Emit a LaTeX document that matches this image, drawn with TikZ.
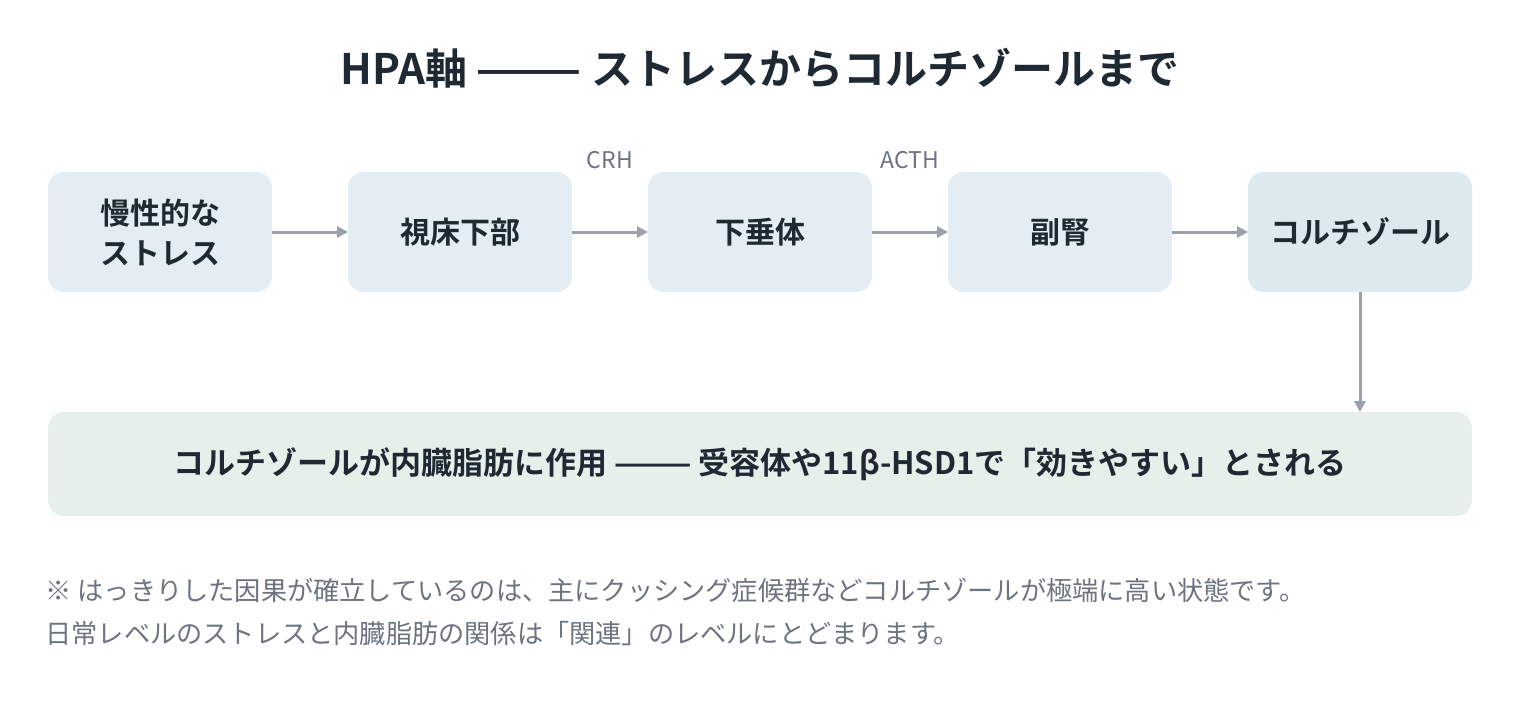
\documentclass[tikz,border=0pt]{standalone}
\usepackage{fontspec}
\setmainfont{Noto Sans CJK JP}[BoldFont={* Bold}]
\usetikzlibrary{positioning,arrows.meta}
\definecolor{boxblue}{HTML}{E4EDF3}
\definecolor{boxend}{HTML}{DCEAF0}
\definecolor{boxgreen}{HTML}{E6EFE9}
\definecolor{arrowgray}{HTML}{9AA1AA}
\definecolor{labelgray}{HTML}{6B7480}
\definecolor{textdark}{HTML}{1F2933}
\tikzset{
  stage/.style={fill=boxblue, rounded corners=16pt, minimum width=224pt, minimum height=120pt,
    outer sep=0pt, align=center, font=\fontsize{30}{40}\selectfont\bfseries, text=textdark},
  flow/.style={-{Triangle[length=11pt,width=11pt]}, line width=3pt, draw=arrowgray},
  hormone/.style={font=\fontsize{23}{26}\selectfont, text=labelgray},
  note/.style={font=\fontsize{26.2}{30}\selectfont, text=labelgray, anchor=west}
}
\begin{document}
\begin{tikzpicture}[x=1pt,y=-1pt]
    \useasboundingbox (0,0) rectangle (1520,704);
    \node[font=\fontsize{42}{50}\selectfont\bfseries, text=textdark] (title) at (760,68) {HPA軸 ——— ストレスからコルチゾールまで};

    \node[stage] (stress) at (160,232) {慢性的な\\ストレス};
    \node[stage, right=76pt of stress] (hypo) {視床下部};
    \node[stage, right=76pt of hypo] (pit) {下垂体};
    \node[stage, right=76pt of pit] (adrenal) {副腎};
    \node[stage, right=76pt of adrenal, fill=boxend] (cort) {コルチゾール};

    \node[hormone] (crh) at (610,160) {CRH};
    \node[hormone] (acth) at (910,160) {ACTH};

    \draw[flow] (stress) -- (hypo);
    \draw[flow] (hypo) -- (pit);
    \draw[flow] (pit) -- (adrenal);
    \draw[flow] (adrenal) -- (cort);

    \node[stage, fill=boxgreen, minimum width=1424pt, minimum height=104pt,
        font=\fontsize{31}{40}\selectfont\bfseries] (effect) at (760,464)
        {コルチゾールが内臓脂肪に作用 ——— 受容体や11β-HSD1で「効きやすい」とされる};
    \coordinate (effin) at (cort.south |- effect.north);
    \draw[flow] (cort) -- (effin);

    % notes
    \node[note] (note1) at (42,590) {※ はっきりした因果が確立しているのは、主にクッシング症候群などコルチゾールが極端に高い状態です。};
    \node[note] (note2) at (42,634) {日常レベルのストレスと内臓脂肪の関係は「関連」のレベルにとどまります。};
\end{tikzpicture}
\end{document}
